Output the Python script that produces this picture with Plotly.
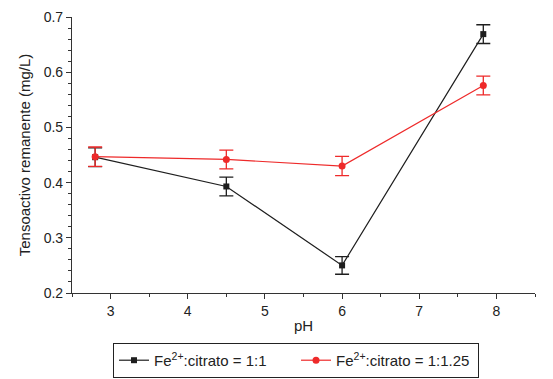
import plotly.graph_objects as go

ph = [2.8, 4.5, 6.0, 7.83]
s1_vals = [0.446, 0.393, 0.250, 0.669]
s1_err = [0.017, 0.017, 0.016, 0.017]
s2_vals = [0.447, 0.442, 0.430, 0.576]
s2_err = [0.0175, 0.017, 0.0175, 0.017]
names = ["Fe<sup>2+</sup>:citrato = 1:1", "Fe<sup>2+</sup>:citrato = 1:1.25"]

BLACK = "#1e1e1e"
RED = "#ee2a2a"
FONT = "Liberation Sans, Arial, sans-serif"

fig = go.Figure()
fig.add_trace(go.Scatter(
    x=ph, y=s1_vals, name=names[0], mode="lines+markers",
    line=dict(color=BLACK, width=1.2),
    marker=dict(symbol="square", size=6, color=BLACK),
    error_y=dict(type="data", array=s1_err, color=BLACK, thickness=1.3, width=7),
))
fig.add_trace(go.Scatter(
    x=ph, y=s2_vals, name=names[1], mode="lines+markers",
    line=dict(color=RED, width=1.2),
    marker=dict(symbol="circle", size=7, color=RED),
    error_y=dict(type="data", array=s2_err, color=RED, thickness=1.3, width=7),
))

axis_common = dict(
    showline=True, linecolor="#333", linewidth=1.2, mirror=False,
    showgrid=False, zeroline=False, automargin=False,
    ticks="outside", ticklen=5, tickwidth=1, tickcolor="#333",
    tickfont=dict(family=FONT, size=14, color="#222"),
)
fig.update_xaxes(
    range=[2.5, 8.5], tick0=3, dtick=1,
    minor=dict(ticks="outside", ticklen=3, tickcolor="#333", dtick=0.5, tick0=3),
    title=dict(text="pH", font=dict(family=FONT, size=15, color="#222"), standoff=2),
    **axis_common,
)
fig.update_yaxes(
    range=[0.2, 0.7], tick0=0.2, dtick=0.1, tickformat=".1f",
    minor=dict(ticks="outside", ticklen=3, tickcolor="#333", dtick=0.02, tick0=0.2),
    title=dict(text="Tensoactivo remanente (mg/L)", font=dict(family=FONT, size=15, color="#222"), standoff=9),
    **axis_common,
)
fig.update_layout(
    width=553, height=379,
    margin=dict(l=64, r=26, t=9, b=94, autoexpand=False),
    plot_bgcolor="white", paper_bgcolor="white",
    font=dict(family=FONT, size=14, color="#222"),
    showlegend=True,
    legend=dict(
        orientation="h", x=0.0886, y=-0.181, xanchor="left", yanchor="top",
        bordercolor="#222", borderwidth=1, bgcolor="white",
        font=dict(family=FONT, size=15, color="#222"),
        entrywidth=137, entrywidthmode="pixels",
        itemwidth=30,
    ),
)
fig.write_html("out.html")
